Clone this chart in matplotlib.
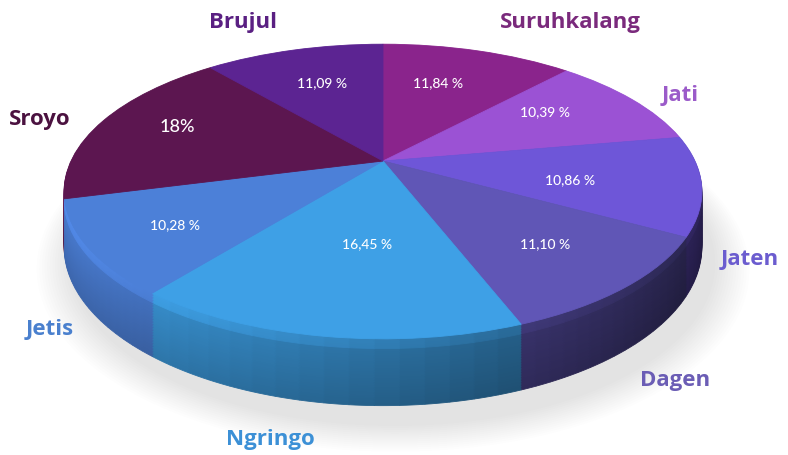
import numpy as np
import matplotlib
matplotlib.use("Agg")
import matplotlib.pyplot as plt
import matplotlib.transforms as mtransforms
from matplotlib.patches import Circle
from matplotlib.colors import to_rgb

names = ['Suruhkalang', 'Jati', 'Jaten', 'Dagen', 'Ngringo', 'Jetis', 'Sroyo', 'Brujul']
shares = [11.84, 10.39, 10.86, 11.10, 16.45, 10.28, 18.0, 11.09]
pct_text = ['11,84 %', '10,39 %', '10,86 %', '11,10 %', '16,45 %', '10,28 %', '18%', '11,09 %']
top_colors = ['#8A248C', '#9B52D4', '#6E56D8', '#6056B6', '#3EA0E6', '#4C80D8', '#5C1650', '#5C2492']
label_colors = ['#7A2A7C', '#9B5BC9', '#6B5CCF', '#6B5DB5', '#3C90D6', '#4A80CE', '#4B1240', '#5A2082']

# where the texts sit (pixels, from top-left)
name_pos = [(570, 22), (680, 95), (750, 260), (675, 381), (270, 440), (50, 330), (40, 120), (243, 22)]
pct_pos = [(438, 83), (545, 112), (570, 180), (545, 244), (367, 244), (175, 225), (177, 127), (322, 83)]

W, H = 788, 456
# tilted disc: centre, scales, perspective and thickness (pixels)
CX, CY = 383, H - 162
SX, SY, E, DEPTH = 312, 141, 0.207, 53


class Tilt(mtransforms.Transform):
    input_dims = output_dims = 2

    def __init__(self, z=0.0):
        super().__init__()
        self.z = z

    def transform_non_affine(self, pts):
        pts = np.asarray(pts, float)
        u, v = pts[:, 0], pts[:, 1]
        w = 1 + E * v
        return np.column_stack([CX + SX * u / w, CY + (SY * v + DEPTH * self.z) / w])


def shade(c, f):
    return tuple(np.clip(np.array(to_rgb(c)) * f, 0, 1))


fig = plt.figure(figsize=(W / 100, H / 100), dpi=100)
ax = fig.add_axes([0, 0, 1, 1])

# soft shadow
for r in np.linspace(1.10, 1.0, 14):
    sh = Circle((0.03, -0.05), r, color='#000000', alpha=0.008, lw=0)
    sh.set_transform(Tilt(-1.12) + ax.transData)
    ax.add_patch(sh)

# side wall: stacked layers, split into thin pieces for lighting
n_sub = 16
vals = np.asarray(shares)
sub_vals = np.repeat(vals / n_sub, n_sub)
mid = np.cumsum(sub_vals) - sub_vals / 2
theta = 90 - 360 * mid / sub_vals.sum()
light = 0.62 + 0.3 * np.cos(np.radians(theta - 190))
base = np.repeat(top_colors, n_sub)

for z in np.linspace(-1, -0.02, 40):
    g = 0.88 + 0.18 * (z + 1) + (0.12 if z > -0.15 else 0)
    cols = [shade(c, f * g) for c, f in zip(base, light)]
    wedges, _ = ax.pie(sub_vals, colors=cols, startangle=90, counterclock=False,
                       radius=1, wedgeprops=dict(linewidth=0.6))
    for wd in wedges:
        wd.set_edgecolor(wd.get_facecolor())
        wd.set_transform(Tilt(z) + ax.transData)

# top face
wedges, _ = ax.pie(shares, colors=top_colors, startangle=90, counterclock=False,
                   radius=1, wedgeprops=dict(linewidth=0.6))
for wd in wedges:
    wd.set_edgecolor(wd.get_facecolor())
    wd.set_transform(Tilt(0) + ax.transData)

# percentage labels on the slices
for t, v, (px, py) in zip(pct_text, vals, pct_pos):
    ax.text(px, H - py, t, color='white', ha='center', va='center',
            fontsize=13 if v > 17 else 10, fontweight='medium', family='Lato')

for n, (px, py), c in zip(names, name_pos, label_colors):
    ax.text(px, H - py, n, color=c, ha='center', va='center',
            fontsize=16, fontweight='bold', family='Open Sans')

ax.set_xlim(0, W)
ax.set_ylim(0, H)
ax.set_aspect('auto')
ax.axis('off')
fig.savefig('out.png', dpi=100)
